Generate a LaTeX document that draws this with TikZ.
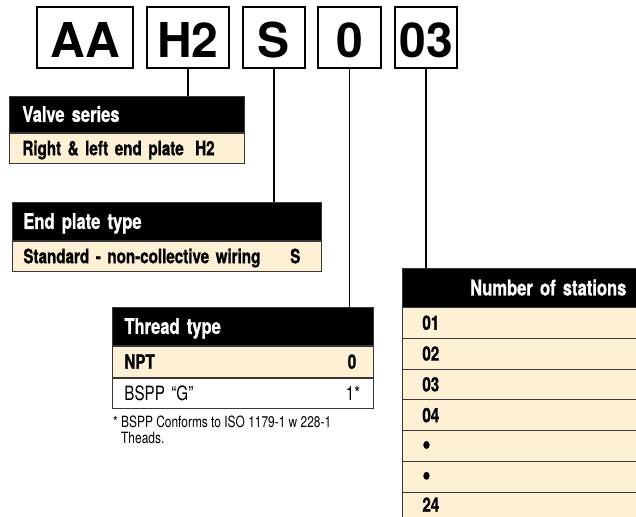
\documentclass[tikz,border=0pt]{standalone}
\usepackage{fontspec}
\setmainfont{TeX Gyre Heros}
\newfontfamily\condfont[FakeStretch=0.77, BoldFeatures={FakeBold=1}]{TeX Gyre Heros}
\usepackage{tikz}
\definecolor{cream}{RGB}{253,240,212}
\definecolor{tblline}{RGB}{55,55,55}
\usetikzlibrary{
  arrows.meta,
  positioning
}

\tikzset{
  codebox/.style={draw=black, line width=1.4pt, inner sep=0pt,
    minimum height=61pt, text height=41pt, text depth=0pt,
    font=\bfseries\fontsize{48}{50}\selectfont},
  tblhead/.style={anchor=north west, fill=black, draw=tblline, line width=0.8pt,
    text=white, inner ysep=0pt, align=left, text height=15pt, text depth=0pt,
    font=\condfont\bfseries\fontsize{21.5}{22}\selectfont},
  tblrow/.style={fill=cream, draw=tblline, line width=0.8pt,
    inner ysep=0pt, align=left, text height=14pt, text depth=0pt,
    font=\condfont\bfseries\fontsize{19.7}{20}\selectfont},
  codetext/.style={inner sep=0pt, text height=14pt, text depth=0pt,
    font=\condfont\bfseries\fontsize{19.7}{20}\selectfont},
  plaintext/.style={font=\condfont\fontsize{19.7}{20}\selectfont},
  notetext/.style={inner sep=0pt, align=left,
    font=\condfont\fontsize{15.5}{15.5}\selectfont},
  conn/.style={draw=black, line width=1.5pt}
}
\newcommand{\bigdot}{\raisebox{-1pt}{\fontsize{30}{20}\selectfont\textbullet}}

\begin{document}
\begin{tikzpicture}[x=1pt, y=-1pt]

  \useasboundingbox (0,0) rectangle (636,516);
  \clip (0,0) rectangle (636,516);

  %% ===== CODE BOXES =====
  \node[codebox, minimum width=96pt] (cAA) at (85,37.5)    {AA};
  \node[codebox, minimum width=82pt] (cH2) at (188,37.5)   {H2};
  \node[codebox, minimum width=62pt] (cS)  at (274,37.5)   {S};
  \node[codebox, minimum width=63pt] (c0)  at (349.5,37.5) {0};
  \node[codebox, minimum width=62pt] (c03) at (426,37.5)   {03};

  %% ===== VALVE SERIES =====
  \node[tblhead, inner xsep=13pt, text width=209pt, minimum height=36pt]
    (vshead) at (9,96) {Valve series};
  \node[tblrow, inner xsep=13pt, text width=209pt, minimum height=30pt,
    below=0pt of vshead] (vsrow) {Right \& left end plate};
  \node[codetext, anchor=west] (vscode) at ([xshift=186pt]vsrow.west) {H2};

  %% ===== END PLATE TYPE =====
  \node[tblhead, inner xsep=11pt, text width=287pt, minimum height=38pt]
    (ephead) at (12,202) {End plate type};
  \node[tblrow, inner xsep=11pt, text width=287pt, minimum height=30pt,
    below=0pt of ephead] (eprow) {Standard - non-collective wiring};
  \node[codetext, anchor=west] (epcode) at ([xshift=278pt]eprow.west) {S};

  %% ===== THREAD TYPE =====
  \node[tblhead, inner xsep=12pt, text width=237pt, minimum height=38pt]
    (tthead) at (112,307) {Thread type};
  \node[tblrow, inner xsep=12pt, text width=237pt, minimum height=31pt,
    below=0pt of tthead] (ttnpt) {NPT};
  \node[tblrow, plaintext, fill=white, inner xsep=12pt, text width=237pt,
    minimum height=30pt, below=0pt of ttnpt] (ttbspp) {BSPP “G”};
  \node[codetext] (ttcode0) at ([xshift=240pt]ttnpt.west) {0};
  \node[codetext, plaintext] (ttcode1) at ([xshift=241pt]ttbspp.west) {1*};

  % Footnote
  \node[notetext, anchor=north west] (ttnote) at (113,416)
    {* BSPP Conforms to ISO 1179-1 w 228-1\\\hspace*{8pt}Theads.};

  %% ===== NUMBER OF STATIONS =====
  \node[tblhead, align=right, inner xsep=16pt, text width=208pt, minimum height=39pt]
    (sthead) at (402,268) {Number of stations};
  \foreach \lbl [count=\i] in {01,02,03,04,\bigdot,\bigdot}
    \node[tblrow, anchor=north west, inner xsep=20pt, text width=200pt,
      minimum height=30.8pt] (st\i) at (402,{307+30.8*(\i-1)}) {\lbl};
  \node[tblrow, anchor=north west, inner xsep=20pt, text width=200pt,
    minimum height=25pt] (st7) at (402,491.8) {24};

  %% ===== CONNECTORS =====
  \draw[conn] (cH2.south) -- (cH2.south |- vshead.north);
  \draw[conn] (cS.south)  -- (cS.south |- ephead.north);
  \draw[conn] (c0.south)  -- (c0.south |- tthead.north);
  \draw[conn] (c03.south) -- (c03.south |- sthead.north);

\end{tikzpicture}
\end{document}
